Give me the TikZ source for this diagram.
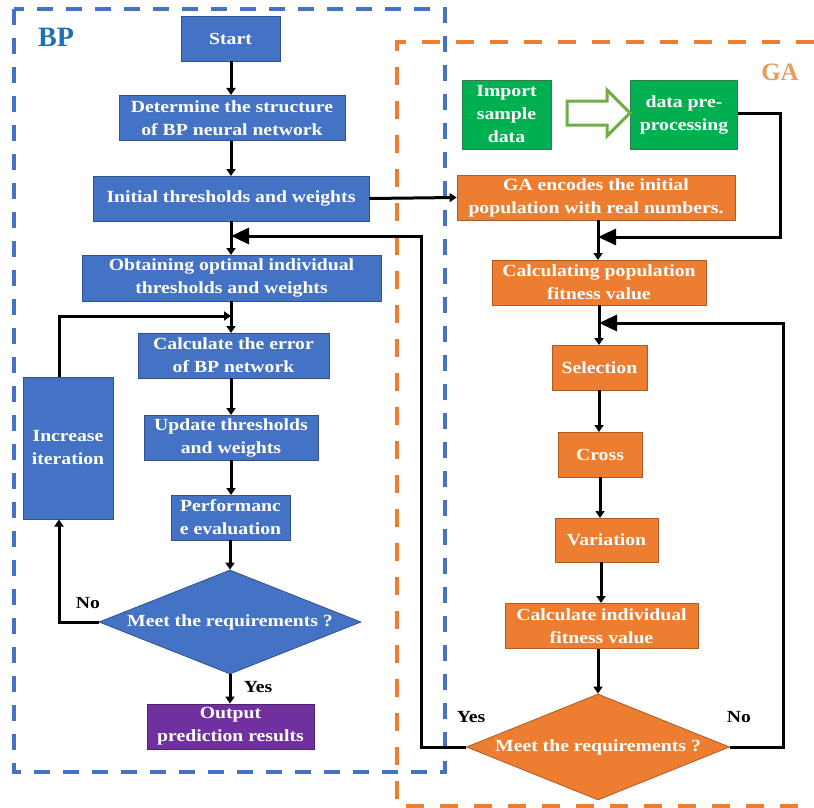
\documentclass[tikz,border=0pt]{standalone}
\usepackage{fontspec}
\setmainfont{Liberation Serif}[FakeStretch=1.16]
\newfontfamily\plainserif{Liberation Serif}
\usetikzlibrary{arrows.meta,shapes.geometric}
\definecolor{bpblue}{HTML}{4472C4}
\definecolor{bpedge}{HTML}{2F528F}
\definecolor{bplabel}{HTML}{1F6FB4}
\definecolor{gaorange}{HTML}{ED7D31}
\definecolor{gaedge}{HTML}{AE5A21}
\definecolor{galabel}{HTML}{EA9A5E}
\definecolor{gagreen}{HTML}{00B050}
\definecolor{greenedge}{HTML}{2E7D4F}
\definecolor{lightgreen}{HTML}{70AD47}
\definecolor{outpurple}{HTML}{7030A0}
\begin{document}
\begin{tikzpicture}[x=1pt,y=-1pt,
  box/.style={line width=0.8pt, text=white, font=\bfseries\fontsize{17}{23}\selectfont,
    align=center, inner sep=0pt, minimum height=45pt},
  bluebox/.style={box, fill=bpblue, draw=bpedge},
  orangebox/.style={box, fill=gaorange, draw=gaedge},
  greenbox/.style={box, fill=gagreen, draw=greenedge},
  purplebox/.style={box, fill=outpurple, draw=outpurple!70!black},
  dia/.style={diamond, inner sep=0pt, line width=0.8pt, text=white,
    font=\bfseries\fontsize{17}{23}\selectfont},
  flow/.style={line width=3pt, draw=black, -{Triangle[width=9pt,length=7pt]}},
  bigflow/.style={line width=3pt, draw=black, -{Triangle[width=16pt,length=18pt]}},
  lab/.style={font=\bfseries\fontsize{17}{20}\selectfont, text=black, inner sep=0pt},
]
\useasboundingbox (0,0) rectangle (814,808);
\fill[white] (0,0) rectangle (814,808);

% dashed frames
\draw[gaorange, line width=4pt, dash pattern=on 18pt off 16pt] (814,42) -- (397,42) -- (397,806) -- (814,806);
\draw[bpblue, line width=4pt, dash pattern=on 16pt off 13pt] (14,9) rectangle (445,772);
\node[font=\plainserif\bfseries\fontsize{28}{30}\selectfont, text=bplabel, inner sep=0pt] (bplab) at (56,37) {BP};
\node[font=\plainserif\bfseries\fontsize{25}{30}\selectfont, text=galabel, inner sep=0pt] (galab) at (780,72) {GA};

% BP nodes
\node[bluebox, minimum width=99pt] (start) at (230.5,38.5) {Start};
\node[bluebox, minimum width=226pt] (determine) at (232,118) {Determine the structure\\of BP neural network};
\node[bluebox, minimum width=276pt] (initial) at (231,198.5) {Initial thresholds and weights};
\node[bluebox, minimum width=299pt, minimum height=46pt] (obtain) at (231.5,278) {Obtaining optimal individual\\thresholds and weights};
\node[bluebox, minimum width=191pt] (calcerr) at (233.5,355.5) {Calculate the error\\of BP network};
\node[bluebox, minimum width=174pt] (update) at (231,437.5) {Update thresholds\\and weights};
\node[bluebox, minimum width=119pt] (perf) at (230.5,517.5) {Performanc\\e evaluation};
\node[bluebox, minimum width=90pt, minimum height=142pt] (increase) at (68,448) {Increase\\iteration};
\node[dia, aspect=2.52, fill=bpblue, draw=bpedge, minimum width=262pt, minimum height=104pt] (bpdia) at (230,622) {Meet the requirements ?};
\node[purplebox, minimum width=167pt] (output) at (230.5,726.5) {Output\\prediction results};

% GA nodes
\node[greenbox, minimum width=89pt, minimum height=69pt] (import) at (506.5,114.5) {Import\\sample\\data};
\node[greenbox, minimum width=107pt, minimum height=69pt] (dataproc) at (684,114.5) {data pre-\\processing};
\draw[lightgreen, line width=3pt, fill=white, line join=miter]
  (567,101) -- (607,101) -- (607,90) -- (630,113) -- (607,136) -- (607,125) -- (567,125) -- cycle;
\node[orangebox, minimum width=278pt] (gaenc) at (596,197.5) {GA encodes the initial\\population with real numbers.};
\node[orangebox, minimum width=214pt] (calcpop) at (599,282.5) {Calculating population\\fitness value};
\node[orangebox, minimum width=95pt] (selection) at (599.5,367.5) {Selection};
\node[orangebox, minimum width=84pt] (cross) at (600,454.5) {Cross};
\node[orangebox, minimum width=103pt, minimum height=44pt] (variation) at (606.5,540) {Variation};
\node[orangebox, minimum width=193pt] (calcind) at (601.5,626) {Calculate individual\\fitness value};
\node[dia, aspect=2.48, fill=gaorange, draw=gaedge, minimum width=263pt, minimum height=106pt] (gadia) at (598,747) {Meet the requirements ?};

% junction coordinates
\coordinate (j1) at (231,236);
\coordinate (j2) at (598,237);
\coordinate (j3) at (599,323);
\coordinate (j4) at (231,316);

% BP flow
\draw[flow] (231,61) -- (231,95);
\draw[flow] (231,140.5) -- (231,176);
\draw[flow] (initial.south) -- (231,255);
\draw[flow] (231,301) -- (231,333);
\draw[flow] (231,378) -- (231,415);
\draw[flow] (231,460) -- (231,495);
\draw[flow] (bpdia.north |- perf.south) -- (bpdia.north);
\draw[flow] (59,377) -- (59,316) -- (j4);
\draw[flow] (bpdia.west) -- (59,622) -- (59,519.5);
\draw[flow] (bpdia.south) -- (bpdia.south |- output.north);
\node[lab] (no1) at (88,603) {No};
\node[lab] (yes1) at (258,687) {Yes};

% cross links
\draw[flow] (initial.east) -- (gaenc.west);
\draw[bigflow] (gadia.west) -- (421,747) -- (421,236) -- (j1);
\node[lab] (yes2) at (471,717) {Yes};

% GA flow
\draw[bigflow] (737.5,113) -- (780,113) -- (780,237) -- (j2);
\draw[flow] (598,220) -- (598,260);
\draw[flow] (599,305) -- (599,345);
\draw[flow] (599,390) -- (599,432);
\draw[flow] (600,477) -- (600,518);
\draw[flow] (601,562) -- (601,603);
\draw[flow] (gadia.north |- calcind.south) -- (gadia.north);
\draw[bigflow] (gadia.east) -- (783,747) -- (783,323) -- (j3);
\node[lab] (no2) at (739,717) {No};
\end{tikzpicture}
\end{document}
